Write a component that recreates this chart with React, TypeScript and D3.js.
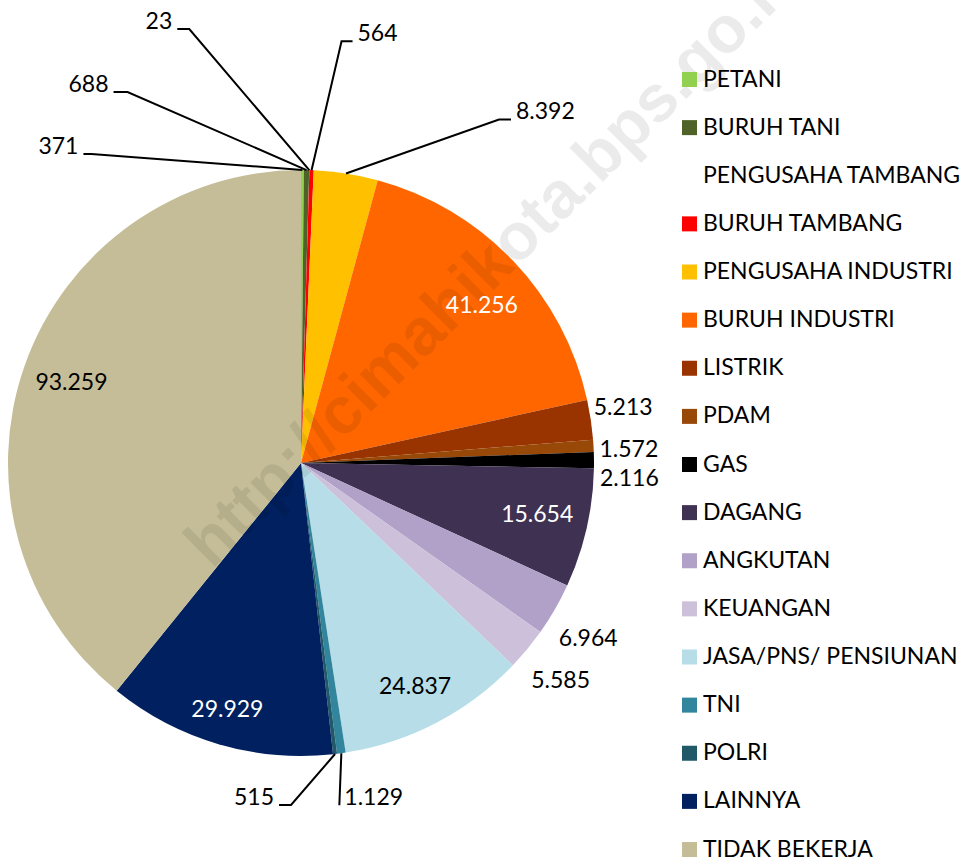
import React from "react";
import * as d3 from "d3";

const categories = [
  "PETANI", "BURUH TANI", "PENGUSAHA TAMBANG", "BURUH TAMBANG", "PENGUSAHA INDUSTRI",
  "BURUH INDUSTRI", "LISTRIK", "PDAM", "GAS", "DAGANG", "ANGKUTAN", "KEUANGAN",
  "JASA/PNS/ PENSIUNAN", "TNI", "POLRI", "LAINNYA", "TIDAK BEKERJA",
];
const values = [
  371, 688, 23, 564, 8392, 41256, 5213, 1572, 2116, 15654, 6964, 5585, 24837, 1129, 515, 29929, 93259,
];
const labelTexts = [
  "371", "688", "23", "564", "8.392", "41.256", "5.213", "1.572", "2.116", "15.654",
  "6.964", "5.585", "24.837", "1.129", "515", "29.929", "93.259",
];
const colors = [
  "#92D050", "#4F6228", "none", "#FF0000", "#FFC000", "#FF6600", "#993300", "#984807",
  "#000000", "#3F3151", "#B1A0C7", "#CCC0DA", "#B7DEE8", "#31859C", "#215968", "#002060", "#C4BD97",
];

// label layout: kind + offsets (px) from the slice's anchor point
type Lay =
  | { kind: "in"; dx: number; dy: number; fill: string }
  | { kind: "out"; dx: number; dy: number }
  | { kind: "lead"; dx: number; dy: number; elbow: number; side: "l" | "r" };
const layout: Lay[] = [
  { kind: "lead", dx: -219, dy: -16, elbow: 8, side: "l" },
  { kind: "lead", dx: -193, dy: -78, elbow: 14, side: "l" },
  { kind: "lead", dx: -132, dy: -141, elbow: 12, side: "l" },
  { kind: "lead", dx: 41, dy: -129, elbow: 11, side: "r" },
  { kind: "lead", dx: 165, dy: -54, elbow: 12, side: "r" },
  { kind: "in", dx: 7, dy: 8, fill: "#fff" },
  { kind: "out", dx: 3, dy: -13 },
  { kind: "out", dx: 6, dy: 3 },
  { kind: "out", dx: 6, dy: 18 },
  { kind: "in", dx: 2, dy: -3, fill: "#fff" },
  { kind: "out", dx: 4, dy: 29 },
  { kind: "out", dx: 4, dy: 31 },
  { kind: "in", dx: 3, dy: 10, fill: "#000" },
  { kind: "lead", dx: -2, dy: 52, elbow: 0, side: "r" },
  { kind: "lead", dx: -56, dy: 51, elbow: 12, side: "l" },
  { kind: "in", dx: -6, dy: 15, fill: "#fff" },
  { kind: "in", dx: -3, dy: -1, fill: "#000" },
];

const W = 971, H = 863;
const cx = 301, cy = 463, R = 293;
const FONT = "Lato, 'Open Sans', sans-serif";
const FS = 23;

export default function App() {
  const pie = d3.pie<number>().sort(null).value((d) => d).startAngle(0).endAngle(2 * Math.PI);
  const arcs = pie(values);
  const arcGen = d3.arc<d3.PieArcDatum<number>>().innerRadius(0).outerRadius(R);
  const pt = (a: number, r: number) => [cx + r * Math.sin(a), cy - r * Math.cos(a)];

  const legendY = d3.scalePoint<string>().domain(categories).range([72, 842]);

  return (
    <div style={{ position: "absolute", left: 0, top: 0 }}>
      <svg width={W} height={H} style={{ display: "block", background: "#fff" }}>
        <g transform={`translate(${cx},${cy})`}>
          {arcs.map((a, i) => (
            <path key={i} d={arcGen(a) || ""} fill={colors[i]} />
          ))}
        </g>
        <text
          x={0}
          y={0}
          transform="translate(212,570) rotate(-44.8)"
          fontFamily="'Liberation Sans', Arial, sans-serif"
          fontWeight="bold"
          fontSize={66}
          fill="#000"
          fillOpacity={0.08}
        >
          http://cimahikota.bps.go.id
        </text>
        {arcs.map((a, i) => {
          const L = layout[i];
          const mid = (a.startAngle + a.endAngle) / 2;
          if (L.kind === "in") {
            const [x, y] = pt(mid, R * 0.82);
            return (
              <text key={i} x={x + L.dx} y={y + L.dy} dy="0.35em" textAnchor="middle"
                fontFamily={FONT} fontSize={FS} fill={L.fill}>
                {labelTexts[i]}
              </text>
            );
          }
          const [ax, ay] = pt(mid, R);
          if (L.kind === "out") {
            return (
              <text key={i} x={ax + L.dx} y={ay + L.dy + 8} textAnchor="start"
                fontFamily={FONT} fontSize={FS} fill="#000">
                {labelTexts[i]}
              </text>
            );
          }
          const lx = ax + L.dx, ly = ay + L.dy;
          const ex = L.side === "l" ? lx + L.elbow : lx - L.elbow;
          const tx = L.side === "l" ? lx - 5 : lx + 5;
          const pts = L.elbow > 0 ? `${lx},${ly} ${ex},${ly} ${ax},${ay}` : `${lx},${ly} ${ax},${ay}`;
          return (
            <g key={i}>
              <polyline points={pts} fill="none" stroke="#000" strokeWidth={2} />
              <text x={tx} y={ly} textAnchor={L.side === "l" ? "end" : "start"}
                fontFamily={FONT} fontSize={FS} fill="#000">
                {labelTexts[i]}
              </text>
            </g>
          );
        })}
        <g>
          {categories.map((c, i) => {
            const y = legendY(c) as number;
            return (
              <g key={c}>
                {colors[i] !== "none" && <rect x={682} y={y} width={15} height={15} fill={colors[i]} />}
                <text x={703} y={y + 14.5} fontFamily={FONT} fontSize={FS} fill="#000">
                  {c}
                </text>
              </g>
            );
          })}
        </g>
      </svg>
    </div>
  );
}
